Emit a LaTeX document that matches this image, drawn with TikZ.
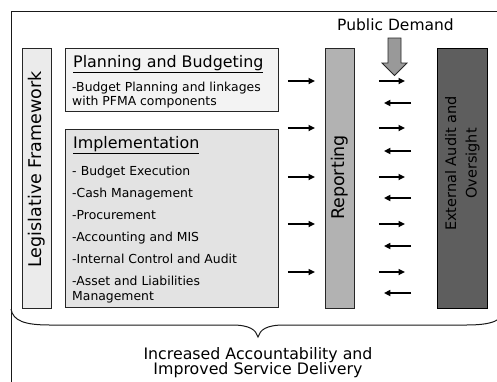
\documentclass[tikz,border=0pt]{standalone}
\usepackage{fontspec}
\setmainfont{DejaVu Sans}
\usetikzlibrary{arrows.meta}
\definecolor{legisfill}{HTML}{EBEBEB}
\definecolor{planfill}{HTML}{F3F3F3}
\definecolor{implfill}{HTML}{E3E3E3}
\definecolor{repfill}{HTML}{B2B2B2}
\definecolor{extfill}{HTML}{5E5E5E}
\definecolor{demandfill}{HTML}{999999}
\begin{document}
\begin{tikzpicture}[x=1pt,y=-1pt,
  box/.style={draw=black!85, line width=0.9pt, inner sep=0pt, anchor=north west},
  body/.style={anchor=base west, inner sep=0pt, font=\fontsize{12.4}{14}\selectfont},
  head/.style={anchor=base west, inner sep=0pt, font=\fontsize{15.9}{18}\selectfont},
  vlabel/.style={rotate=90, inner sep=0pt, font=\fontsize{17.5}{20}\selectfont},
  flow/.style={line width=1.6pt, -{Triangle[length=6.5pt,width=6pt]}},
]
\useasboundingbox (0,0) rectangle (497,381);

% outer frame and the brace gathering everything below
\begin{scope}
  \clip (0,0) rectangle (497,381);
  \draw[line width=1pt, black!90] (505,11) -- (11,11) -- (11,392);
  \draw[line width=1pt, black!90] (11,309) .. controls (13,321) and (25,325) .. (50,325)
     -- (232,325) .. controls (250,325) and (256,330) .. (258,337)
     .. controls (260,330) and (266,325) .. (284,325)
     -- (466,325) .. controls (491,325) and (503,321) .. (505,309);
\end{scope}

% columns
\node[box, fill=legisfill, minimum width=29pt, minimum height=260pt] (legis) at (22,48) {};
\node[box, fill=planfill, minimum width=213pt, minimum height=63pt] (plan) at (65,48) {};
\node[box, fill=implfill, minimum width=213pt, minimum height=178pt] (impl) at (65,129) {};
\node[box, fill=repfill, minimum width=29pt, minimum height=260pt] (rep) at (325,48) {};
\node[box, fill=extfill, draw=black, minimum width=50pt, minimum height=260pt] (ext) at (437,48) {};

% vertical labels
\node[vlabel] (legist) at ([yshift=9pt]legis.center) {Legislative Framework};
\node[vlabel] (rept) at ([yshift=1pt]rep.center) {Reporting};
\node[vlabel, align=center, font=\fontsize{14.5}{20.5}\selectfont] (extt) at ([yshift=15pt]ext.center) {External Audit and\\Oversight};

% planning and budgeting
\node[head] (planh) at (73,67) {\underline{Planning and Budgeting}};
\node[body] (p1) at (72,91) {-Budget Planning and linkages};
\node[body] (p2) at (72,105) {with PFMA components};

% implementation
\node[head] (implh) at (73,148) {\underline{Implementation}};
\node[body] (i1) at (72,175) {-\,\,Budget Execution};
\node[body] (i2) at (72,197) {-Cash Management};
\node[body] (i3) at (72,219) {-Procurement};
\node[body] (i4) at (72,241) {-Accounting and MIS};
\node[body] (i5) at (72,263) {-Internal Control and Audit};
\node[body] (i6) at (72,285) {-Asset and Liabilities};
\node[body] (i7) at (72,300) {Management};

% flows into reporting
\foreach \y in {81,128,177,224,272}
  \draw[flow] ([xshift=9pt]plan.east |- 0,\y) -- ([xshift=-10pt]rep.west |- 0,\y);
% exchanges between reporting and external oversight
\foreach \y in {81,128,177,224,272}
  \draw[flow] ([xshift=24pt]rep.east |- 0,\y) -- ([xshift=-32pt]ext.west |- 0,\y);
\foreach \y in {103,151,198,246,293}
  \draw[flow] ([xshift=-26pt]ext.west |- 0,\y) -- ([xshift=29pt]rep.east |- 0,\y);

% public demand
\node[anchor=base, inner sep=0pt, font=\fontsize{15.5}{18}\selectfont] (demand) at (395.5,30) {Public Demand};
\draw[fill=demandfill, draw=black!85, line width=0.8pt]
  (388,38) -- (401,38) -- (401,63) -- (407,63) -- (394.5,75.5) -- (382,63) -- (388,63) -- cycle;

% outcome
\node[anchor=base, inner sep=0pt, font=\fontsize{15.8}{18}\selectfont] (out1) at (258,359) {Increased Accountability and};
\node[anchor=base, inner sep=0pt, font=\fontsize{15.8}{18}\selectfont] (out2) at (258,374) {Improved Service Delivery};
\end{tikzpicture}
\end{document}
